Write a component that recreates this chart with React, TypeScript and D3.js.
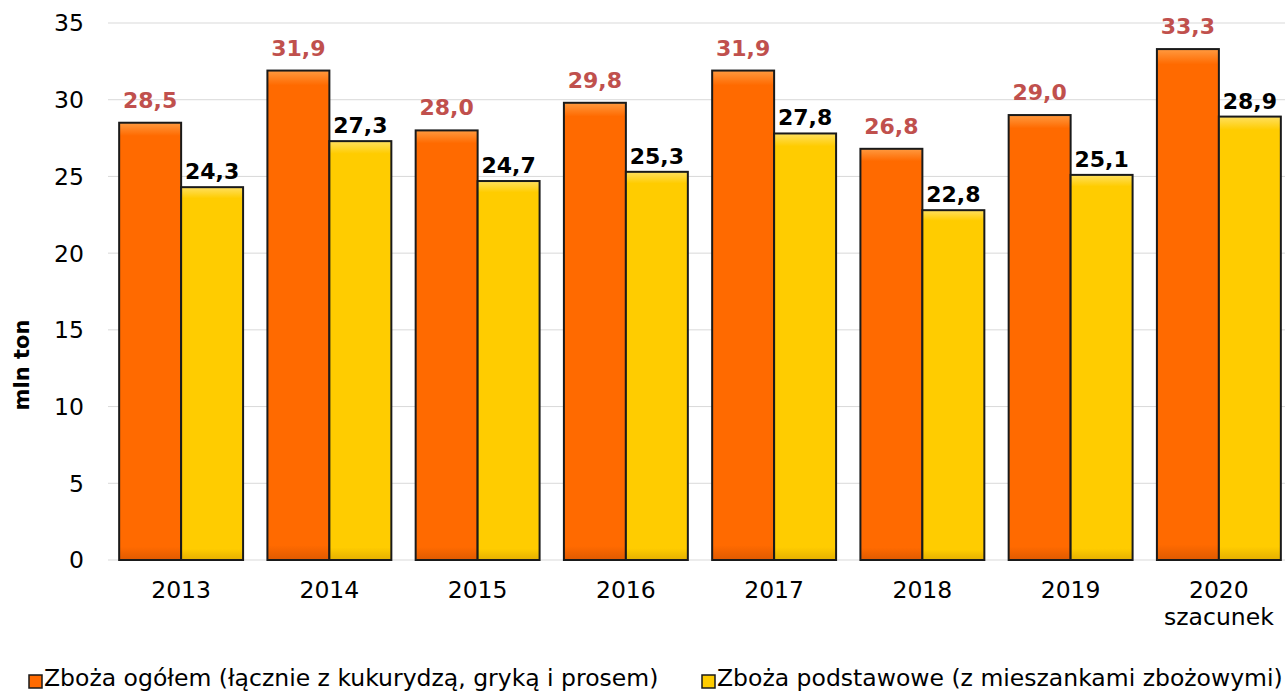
import React from "react";
import * as d3 from "d3";

const years = ["2013", "2014", "2015", "2016", "2017", "2018", "2019", "2020"];
const yearSub = ["", "", "", "", "", "", "", "szacunek"];
const total = [28.5, 31.9, 28.0, 29.8, 31.9, 26.8, 29.0, 33.3];
const basic = [24.3, 27.3, 24.7, 25.3, 27.8, 22.8, 25.1, 28.9];
const yTicks = [0, 5, 10, 15, 20, 25, 30, 35];
const seriesNames = [
  "Zboża ogółem (łącznie z kukurydzą, gryką i prosem)",
  "Zboża podstawowe (z mieszankami zbożowymi)",
];

const W = 1285;
const H = 693;
const FONT = "Verdana, 'DejaVu Sans', sans-serif";

export default function App() {
  const x = d3.scaleBand().domain(years).range([107, 1293]).paddingInner(0.164).paddingOuter(0.082);
  const y = d3.scaleLinear().domain([0, 35]).range([560, 23]);
  const bw = x.bandwidth() / 2;
  const fmt = (v: number) => v.toFixed(1).replace(".", ",");
  const series = [
    { vals: total, fill: "url(#gOrange)", labelColor: "#C0504D", off: 15 },
    { vals: basic, fill: "url(#gYellow)", labelColor: "#000000", off: 8 },
  ];
  return (
    <svg width={W} height={H} style={{ position: "absolute", left: 0, top: 0 }} fontFamily={FONT}>
      <defs>
        <linearGradient id="gOrange" x1="0" y1="0" x2="0" y2="1">
          <stop offset="0" stopColor="#FF9A40" />
          <stop offset="0.03" stopColor="#FF6A00" />
          <stop offset="0.97" stopColor="#FF6A00" />
          <stop offset="1" stopColor="#E05A00" />
        </linearGradient>
        <linearGradient id="gYellow" x1="0" y1="0" x2="0" y2="1">
          <stop offset="0" stopColor="#FFE060" />
          <stop offset="0.03" stopColor="#FFCC00" />
          <stop offset="0.97" stopColor="#FFCC00" />
          <stop offset="1" stopColor="#E5B000" />
        </linearGradient>
      </defs>
      <rect width={W} height={H} fill="#fff" />
      {yTicks.map((t) => (
        <g key={t}>
          <line x1={108} x2={W} y1={y(t)} y2={y(t)} stroke="#D9D9D9" strokeWidth={1} />
          <text x={84} y={y(t)} dy="0.36em" textAnchor="end" fontSize={23.5} fill="#000">
            {t}
          </text>
        </g>
      ))}
      {series.map((s, si) =>
        years.map((yr, i) => {
          const x0 = (x(yr) as number) + si * bw;
          const v = s.vals[i];
          return (
            <g key={yr + si}>
              <rect
                x={x0}
                y={y(v)}
                width={bw}
                height={y(0) - y(v)}
                fill={s.fill}
                stroke="#1a1a1a"
                strokeWidth={2}
              />
              <text
                x={x0 + bw / 2}
                y={y(v) - s.off}
                textAnchor="middle"
                fontSize={22}
                fontWeight="bold"
                fill={s.labelColor}
              >
                {fmt(v)}
              </text>
            </g>
          );
        })
      )}
      {years.map((yr, i) => (
        <g key={yr}>
          <text x={(x(yr) as number) + bw} y={598} textAnchor="middle" fontSize={23.5} fill="#000">
            {yr}
          </text>
          {yearSub[i] && (
            <text x={(x(yr) as number) + bw} y={625} textAnchor="middle" fontSize={23.5} fill="#000">
              {yearSub[i]}
            </text>
          )}
        </g>
      ))}
      <text
        transform="translate(29,365) rotate(-90)"
        textAnchor="middle"
        fontSize={21}
        fontWeight="bold"
        fill="#000"
      >
        mln ton
      </text>
      {seriesNames.map((n, i) => {
        const lx = i === 0 ? 29 : 702;
        return (
          <g key={n}>
            <rect x={lx} y={675} width={13} height={13} fill={i === 0 ? "url(#gOrange)" : "url(#gYellow)"} stroke="#1a1a1a" strokeWidth={1.5} />
            <text x={lx + 15} y={686} fontSize={23.5} fill="#000">
              {n}
            </text>
          </g>
        );
      })}
    </svg>
  );
}
